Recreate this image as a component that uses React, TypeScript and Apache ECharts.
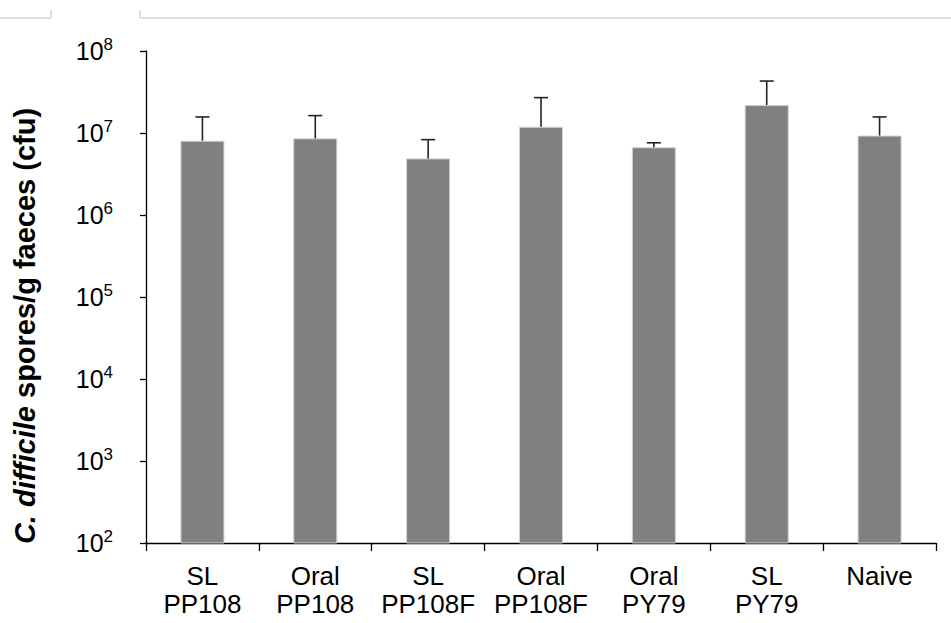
import React, { useEffect, useRef } from "react";
import * as echarts from "echarts";

const categories = ["SL\nPP108", "Oral\nPP108", "SL\nPP108F", "Oral\nPP108F", "Oral\nPY79", "SL\nPY79", "Naive"];
const means = [8.05e6, 8.6e6, 4.9e6, 1.19e7, 6.7e6, 2.19e7, 9.3e6];
const errorTops = [1.57e7, 1.63e7, 8.3e6, 2.7e7, 7.6e6, 4.3e7, 1.57e7];
const yMin = 1e2;
const yMax = 1e8;

const FONT = "Liberation Sans, Arial, sans-serif";

export default function App() {
  const ref = useRef<HTMLDivElement>(null);
  useEffect(() => {
    if (!ref.current) return;
    const chart = echarts.init(ref.current, undefined, { renderer: "svg" });
    const errData = categories.map((_, i) => [i, errorTops[i], means[i]]);
    chart.setOption({
      animation: false,
      backgroundColor: "#ffffff",
      grid: { left: 146, right: 15, top: 51, bottom: 80, containLabel: false },
      graphic: [
        { type: "line", shape: { x1: 0, y1: 18, x2: 51, y2: 18 }, style: { stroke: "#d4d4d4", lineWidth: 1.5 } },
        { type: "line", shape: { x1: 51, y1: 10, x2: 51, y2: 18 }, style: { stroke: "#d4d4d4", lineWidth: 1.5 } },
        { type: "line", shape: { x1: 140, y1: 18, x2: 951, y2: 18 }, style: { stroke: "#d4d4d4", lineWidth: 1.5 } },
        { type: "line", shape: { x1: 140, y1: 10, x2: 140, y2: 18 }, style: { stroke: "#d4d4d4", lineWidth: 1.5 } },
        {
          type: "text",
          x: 25,
          y: 326,
          rotation: Math.PI / 2,
          style: {
            text: "{i|C. difficile} {n|spores/g faeces (cfu)}",
            align: "center",
            verticalAlign: "middle",
            fill: "#000",
            font: `bold 29px ${FONT}`,
            rich: {
              i: { fontSize: 29, fontWeight: "bold", fontStyle: "italic", fill: "#000", fontFamily: FONT },
              n: { fontSize: 29, fontWeight: "bold", fill: "#000", fontFamily: FONT },
            },
          },
        },
      ],
      xAxis: {
        type: "category",
        data: categories,
        axisLine: { lineStyle: { color: "#000", width: 1.3 } },
        axisTick: { show: true, length: 8, alignWithLabel: false, lineStyle: { color: "#000", width: 1.3 } },
        axisLabel: {
          color: "#000",
          fontFamily: FONT,
          fontSize: 26,
          lineHeight: 28,
          margin: 19,
          interval: 0,
        },
      },
      yAxis: {
        type: "log",
        logBase: 10,
        min: yMin,
        max: yMax,
        splitLine: { show: false },
        axisLine: { show: true, lineStyle: { color: "#000", width: 1.3 } },
        axisTick: { show: true, length: 6, lineStyle: { color: "#000", width: 1.3 } },
        axisLabel: {
          margin: 33,
          fontSize: 25,
          fontFamily: FONT,
          color: "#000",
          formatter: (v: number) => `{b|10}{s|${Math.round(Math.log10(v))}}`,
          rich: {
            b: { fontSize: 25, color: "#000", fontFamily: FONT, lineHeight: 30 },
            s: { fontSize: 17, color: "#000", fontFamily: FONT, verticalAlign: "top", lineHeight: 30, padding: [0, 0, 12, 0] },
          },
        },
      },
      series: [
        {
          type: "bar",
          data: means,
          barWidth: 44,
          itemStyle: { color: "#808080", borderColor: "#cfcfcf", borderWidth: 1 },
        },
        {
          type: "custom",
          data: errData,
          z: 10,
          renderItem: (params: any, api: any) => {
            const i = api.value(0);
            const top = api.coord([i, api.value(1)]);
            const base = api.coord([i, api.value(2)]);
            const half = 7;
            return {
              type: "group",
              children: [
                { type: "line", shape: { x1: top[0], y1: top[1], x2: base[0], y2: base[1] }, style: { stroke: "#222", lineWidth: 1.6 } },
                { type: "line", shape: { x1: top[0] - half, y1: top[1], x2: top[0] + half, y2: top[1] }, style: { stroke: "#222", lineWidth: 1.6 } },
              ],
            };
          },
        },
      ],
    });
    return () => chart.dispose();
  }, []);
  return <div ref={ref} style={{ position: "fixed", left: 0, top: 0, width: 951, height: 623 }} />;
}
